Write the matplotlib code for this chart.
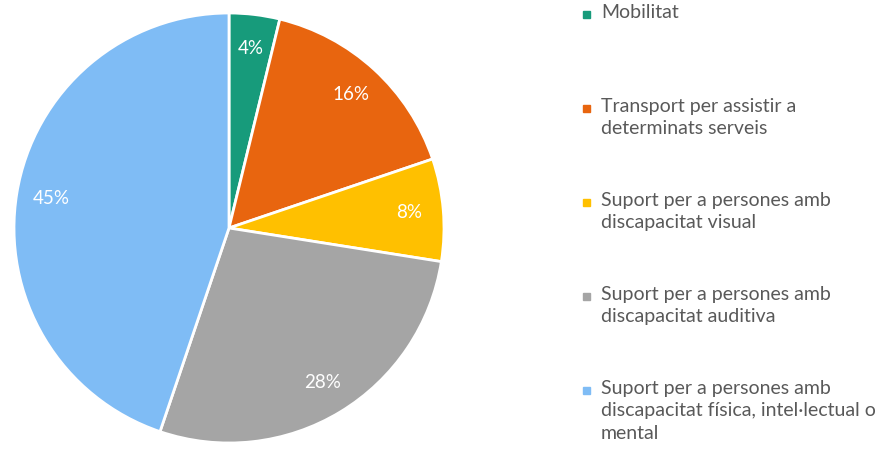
import matplotlib.pyplot as plt
from matplotlib.patches import Rectangle

categories = [
    'Mobilitat',
    'Transport per assistir a\ndeterminats serveis',
    'Suport per a persones amb\ndiscapacitat visual',
    'Suport per a persones amb\ndiscapacitat auditiva',
    'Suport per a persones amb\ndiscapacitat física, intel·lectual o\nmental',
]
values = [3.8, 16.0, 7.7, 27.7, 44.8]
colors = ['#179B7B', '#E8650F', '#FFC000', '#A5A5A5', '#7FBCF5']

plt.rcParams['font.family'] = ['Lato', 'DejaVu Sans']

W, H = 896, 455
fig = plt.figure(figsize=(W / 100, H / 100), dpi=100)

# pie axes: centre (229, 228) px, radius 215 px
cx, cy, r = 229, 228, 215
ax = fig.add_axes([(cx - r) / W, (H - cy - r) / H, 2 * r / W, 2 * r / H])
wedges, texts, autotexts = ax.pie(
    values, colors=colors, startangle=90, counterclock=False,
    autopct='%.0f%%', pctdistance=0.84,
    wedgeprops=dict(edgecolor='white', linewidth=2),
    textprops=dict(color='white', fontsize=13.5))
ax.set_xlim(-1, 1)
ax.set_ylim(-1, 1)
ax.set_aspect('equal')
ax.axis('off')

# legend drawn by hand, Excel style: equal spacing between entry tops
leg_top = 14
leg_step = 94
for i, (lab, col) in enumerate(zip(categories, colors)):
    y = leg_top + i * leg_step
    fig.patches.append(Rectangle((583 / W, 1 - (y + 4) / H), 7 / W, 7 / H,
                                 transform=fig.transFigure, color=col))
    fig.text(601 / W, 1 - (y - 10) / H, lab, fontsize=14, color='#595959',
             va='top', ha='left', linespacing=1.38)

fig.savefig('out.png', dpi=100)
